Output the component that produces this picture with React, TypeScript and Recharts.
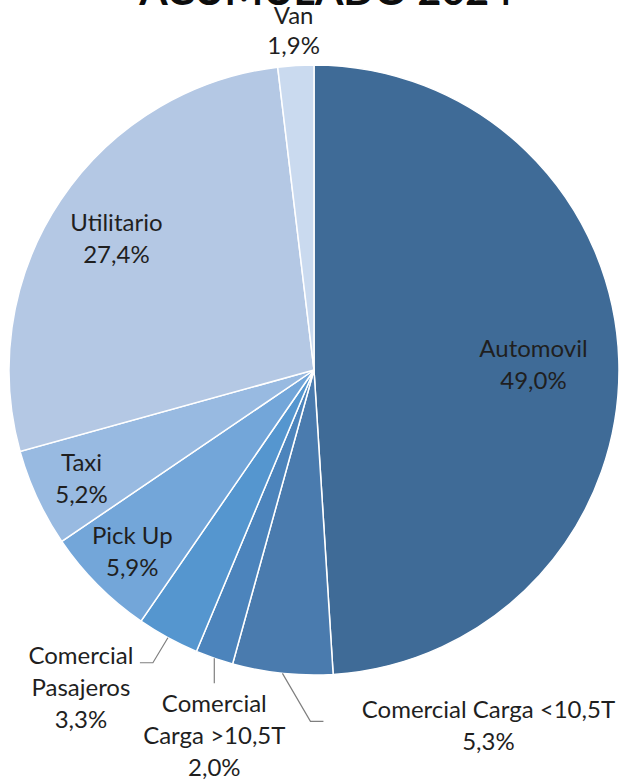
import React from 'react'
import { PieChart, Pie, Cell } from 'recharts'

const categories = [
  'Automovil',
  'Comercial Carga <10,5T',
  'Comercial Carga >10,5T',
  'Comercial Pasajeros',
  'Pick Up',
  'Taxi',
  'Utilitario',
  'Van',
]
const shares = [49.0, 5.3, 2.0, 3.3, 5.9, 5.2, 27.4, 1.9]
const labelLines = [
  ['Automovil'],
  ['Comercial Carga <10,5T'],
  ['Comercial', 'Carga >10,5T'],
  ['Comercial', 'Pasajeros'],
  ['Pick Up'],
  ['Taxi'],
  ['Utilitario'],
  ['Van'],
]
const colors = ['#3F6B97', '#4A7BAE', '#4C84BC', '#5596CF', '#73A6D9', '#98BAE1', '#B4C8E4', '#CADAEF']

const data = categories.map((name, i) => ({ name, value: shares[i] }))

// label placement: inside labels sit on the mid angle at a fraction of the radius,
// leader labels get an elbow from the slice edge
type Place =
  | { kind: 'radial'; rf: number; lh?: number }
  | { kind: 'leader'; elbow: [number, number]; tail: number; text: [number, number] }

const places: Place[] = [
  { kind: 'radial', rf: 0.72 },
  { kind: 'leader', elbow: [28, 48], tail: 13, text: [165, -13] },
  { kind: 'leader', elbow: [0, 25], tail: 0, text: [0, 19] },
  { kind: 'leader', elbow: [-15, 25], tail: -13, text: [-59, -8] },
  { kind: 'radial', rf: 0.84 },
  { kind: 'radial', rf: 0.84 },
  { kind: 'radial', rf: 0.78 },
  { kind: 'radial', rf: 1.12, lh: 30 },
]

const LINE_H = 32
const fmt = (v: number) => v.toFixed(1).replace('.', ',') + '%'

const renderLabel = (props: any) => {
  const { cx, cy, midAngle, outerRadius, index } = props
  const rad = (Math.PI / 180) * midAngle
  const place = places[index]
  const lines = [...labelLines[index], fmt(shares[index])]
  let lh = LINE_H
  let tx: number
  let ty: number
  let leader: React.ReactNode = null
  if (place.kind === 'radial') {
    lh = place.lh ?? LINE_H
    tx = cx + outerRadius * place.rf * Math.cos(rad)
    ty = cy - outerRadius * place.rf * Math.sin(rad)
    ty -= ((lines.length - 1) * lh) / 2
  } else {
    const sx = cx + outerRadius * Math.cos(rad)
    const sy = cy - outerRadius * Math.sin(rad)
    const ex = sx + place.elbow[0]
    const ey = sy + place.elbow[1]
    const fx = ex + place.tail
    leader = (
      <polyline
        points={`${sx},${sy} ${ex},${ey} ${fx},${ey}`}
        fill="none"
        stroke="#7F7F7F"
        strokeWidth={1.2}
      />
    )
    tx = fx + place.text[0]
    ty = ey + place.text[1]
  }
  return (
    <g key={`lbl-${index}`}>
      {leader}
      {lines.map((t, k) => (
        <text
          key={k}
          x={tx}
          y={ty + k * lh}
          textAnchor="middle"
          dominantBaseline="central"
          fill="#1F1F1F"
          fontSize={24}
          fontFamily="Lato, 'Noto Sans', sans-serif"
        >
          {t}
        </text>
      ))}
    </g>
  )
}

export default function App() {
  return (
    <div style={{ position: 'absolute', left: 0, top: 0, width: 621, height: 782, background: '#fff' }}>
      <PieChart width={621} height={782} margin={{ top: 0, right: 0, bottom: 0, left: 0 }}>
        <Pie
          data={data}
          dataKey="value"
          nameKey="name"
          cx={314}
          cy={370}
          outerRadius={305}
          startAngle={90}
          endAngle={-270}
          stroke="#FFFFFF"
          strokeWidth={1.5}
          label={renderLabel}
          labelLine={false}
          isAnimationActive={false}
        >
          {data.map((d, i) => (
            <Cell key={d.name} fill={colors[i]} />
          ))}
        </Pie>
      </PieChart>
      <svg width={621} height={40} style={{ position: 'absolute', left: 0, top: 0 }}>
        <text
          x={326}
          y={5}
          textAnchor="middle"
          fontSize={41}
          fontWeight={700}
          fill="#0D0D0D"
          fontFamily="Lato, 'Noto Sans', sans-serif"
        >
          ACUMULADO 2024
        </text>
      </svg>
    </div>
  )
}
